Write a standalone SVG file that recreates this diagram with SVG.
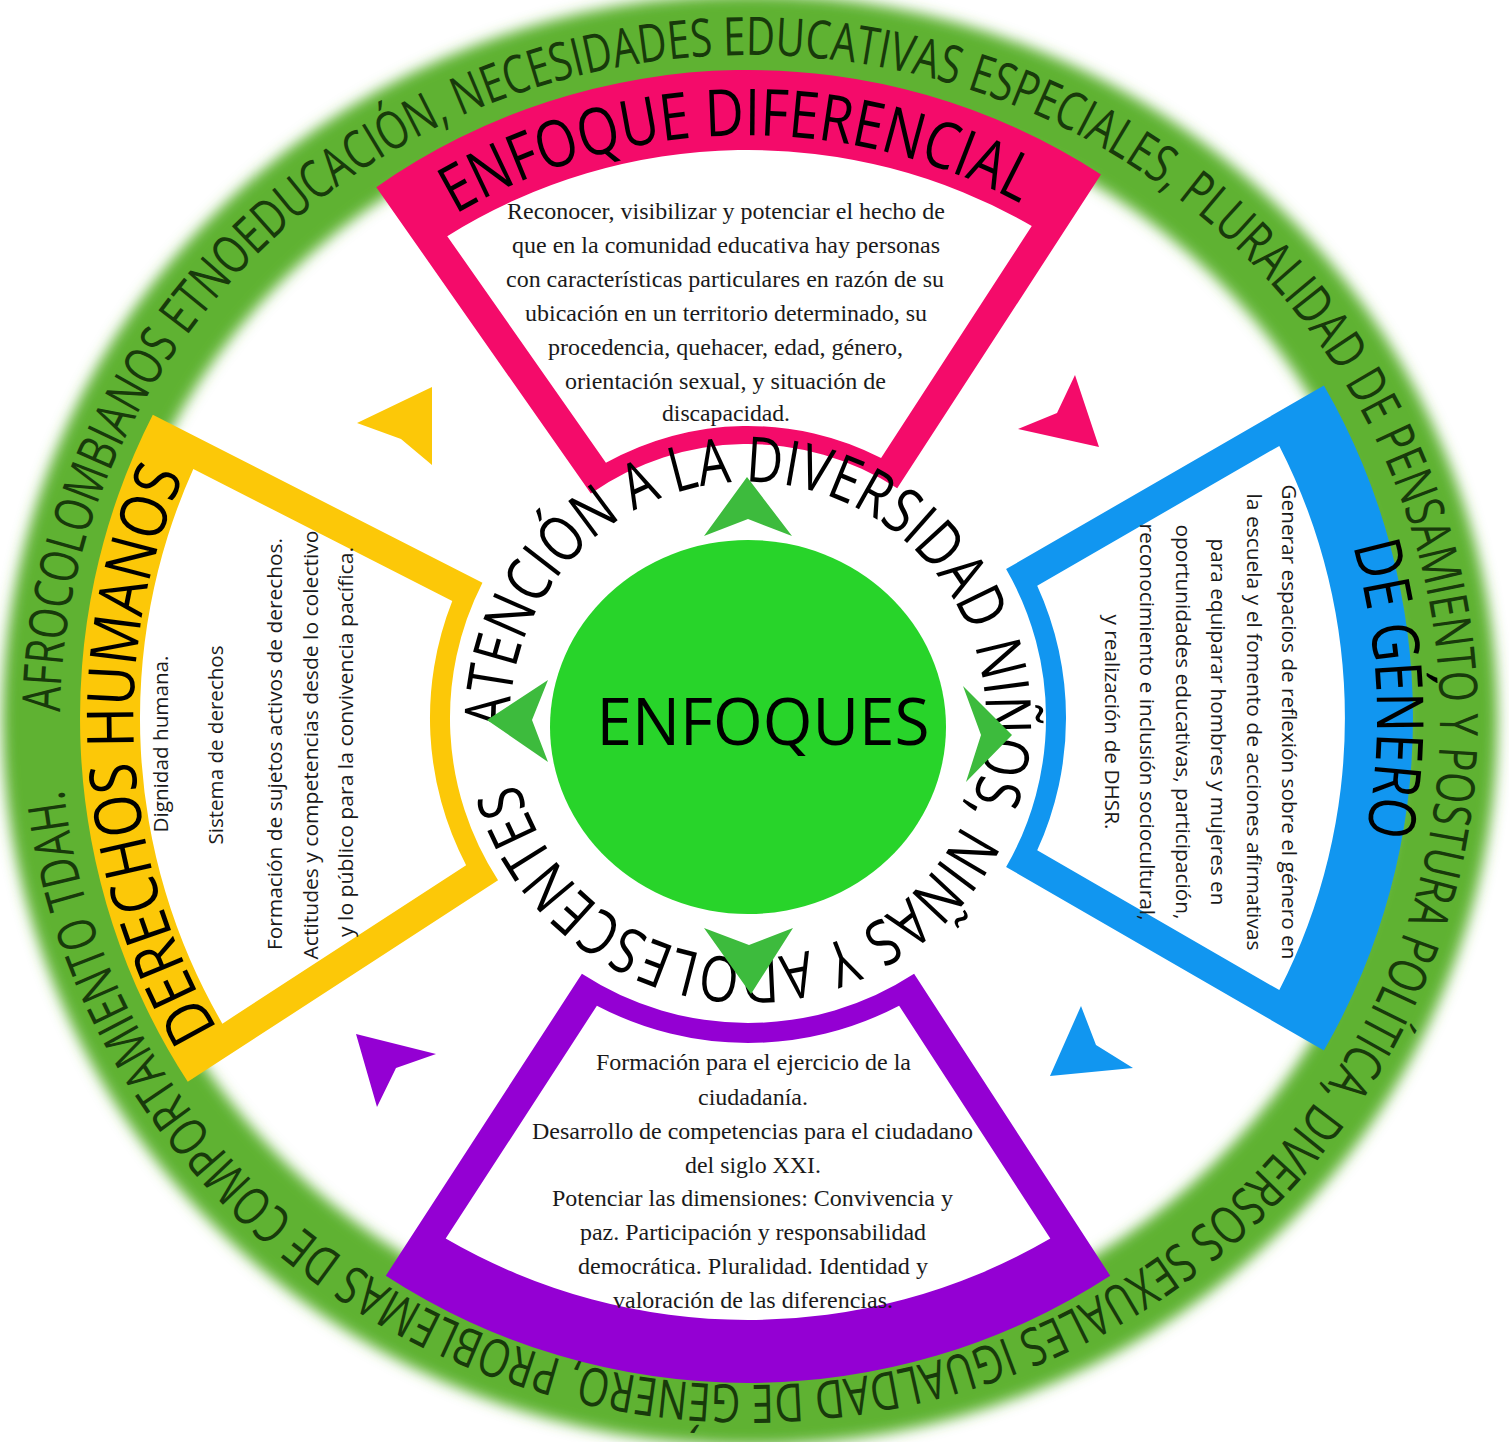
<svg xmlns="http://www.w3.org/2000/svg" width="1509" height="1442" viewBox="0 0 1509 1442">
<defs>
<style>
.ring{font-family:"Open Sans","Liberation Sans",sans-serif;font-size:53px;fill:#183a0b;}
.title{font-family:"Open Sans","Liberation Sans",sans-serif;font-size:65px;fill:#000;}
.inner{font-family:"Open Sans","Liberation Sans",sans-serif;font-size:63px;fill:#000;}
.serif{font-family:"Liberation Serif","Times New Roman",serif;font-size:23px;fill:#1a1a1a;text-anchor:middle;}
.sans{font-family:"Open Sans","Liberation Sans",sans-serif;font-size:20px;fill:#1a1a1a;text-anchor:middle;}
.ga{fill:#3dbb3d;}
</style>
<filter id="soft" x="-10%" y="-10%" width="120%" height="120%"><feGaussianBlur stdDeviation="7"/></filter>
<path id="ringPath" d="M 60,720 A 690 665 0 1 1 1440,720 A 690 665 0 1 1 60,720"/>
<path id="innerPath" d="M 510.1,728.3 A 238 238 0 1 1 985.9,711.7 A 238 238 0 1 1 510.1,728.3"/>
<path id="pinkTitle" d="M 241.8,433.3 A 578 578 0 0 1 1242,414"/>
<path id="blueTitle" d="M 1037,160 A 628 628 0 0 1 1086.6,1247.5"/>
<path id="yellowTitle" d="M 474.9,1267.8 A 612 612 0 0 1 410,207"/>
</defs>
<rect width="1509" height="1442" fill="#ffffff"/>

<g id="ring">
<ellipse cx="750" cy="720" rx="700" ry="678" fill="none" stroke="#5fb233" stroke-width="95" filter="url(#soft)"/>
<text class="ring"><textPath href="#ringPath" startOffset="8" textLength="4179" lengthAdjust="spacingAndGlyphs">AFROCOLOMBIANOS ETNOEDUCACIÓN, NECESIDADES EDUCATIVAS ESPECIALES, PLURALIDAD DE PENSAMIENTO Y POSTURA POLÍTICA, DIVERSOS SEXUALES IGUALDAD DE GÉNERO, PROBLEMAS DE COMPORTAMIENTO TDAH.</textPath></text>
</g>

<g id="node-diferencial">
<g transform="translate(748,718) rotate(-1)">
<path fill="#f40b6a" d="M -362.4,-537.2 A 648 648 0 0 1 362.4,-537.2 L 153.2,-227.1 A 274 274 0 0 0 -153.2,-227.1 Z"/>
<path fill="#ffffff" d="M -292.3,-487 A 568 568 0 0 1 292.3,-487 L 137.6,-257.6 A 292 292 0 0 0 -137.6,-257.6 Z"/>
</g>
<text class="title"><textPath href="#pinkTitle" startOffset="50%" text-anchor="middle" textLength="590" lengthAdjust="spacingAndGlyphs">ENFOQUE DIFERENCIAL</textPath></text>
<text class="serif" x="726" y="219" textLength="438" lengthAdjust="spacingAndGlyphs">Reconocer, visibilizar y potenciar el hecho de</text>
<text class="serif" x="726" y="253" textLength="428" lengthAdjust="spacingAndGlyphs">que en la comunidad educativa hay personas</text>
<text class="serif" x="725" y="287" textLength="438" lengthAdjust="spacingAndGlyphs">con características particulares en razón de su</text>
<text class="serif" x="726" y="321" textLength="402" lengthAdjust="spacingAndGlyphs">ubicación en un territorio determinado, su</text>
<text class="serif" x="725.5" y="355" textLength="355" lengthAdjust="spacingAndGlyphs">procedencia, quehacer, edad, género,</text>
<text class="serif" x="725.5" y="389" textLength="321" lengthAdjust="spacingAndGlyphs">orientación sexual, y situación de</text>
<text class="serif" x="726" y="421" textLength="128" lengthAdjust="spacingAndGlyphs">discapacidad.</text>
</g>

<g id="node-genero">
<g transform="translate(748,718) rotate(90)">
<path fill="#1196f0" d="M -332.5,-575.9 A 665 665 0 0 1 332.5,-575.9 L 149,-258.1 A 298 298 0 0 0 -149,-258.1 Z"/>
<path fill="#ffffff" d="M -272.1,-531.3 A 597 597 0 0 1 272.1,-531.3 L 132.3,-289.2 A 318 318 0 0 0 -132.3,-289.2 Z"/>
</g>
<text class="title"><textPath href="#blueTitle" startOffset="50%" text-anchor="middle" textLength="292" lengthAdjust="spacingAndGlyphs">DE GÉNERO</textPath></text>
<text class="sans" transform="translate(1282,722) rotate(90)" textLength="475" lengthAdjust="spacingAndGlyphs">Generar espacios de reflexión sobre el género en</text>
<text class="sans" transform="translate(1246.5,722) rotate(90)" textLength="457" lengthAdjust="spacingAndGlyphs">la escuela y el fomento de acciones afirmativas</text>
<text class="sans" transform="translate(1211,722) rotate(90)" textLength="367" lengthAdjust="spacingAndGlyphs">para equiparar hombres y mujeres en</text>
<text class="sans" transform="translate(1175.5,722) rotate(90)" textLength="395" lengthAdjust="spacingAndGlyphs">oportunidades educativas, participación,</text>
<text class="sans" transform="translate(1140,722) rotate(90)" textLength="397" lengthAdjust="spacingAndGlyphs">reconocimiento e inclusión sociocultural,</text>
<text class="sans" transform="translate(1104.5,722) rotate(90)" textLength="215" lengthAdjust="spacingAndGlyphs">y realización de DHSR.</text>
</g>

<g id="node-ciudadania">
<g transform="translate(748,718) rotate(180)">
<path fill="#9400d3" d="M -362.2,-557.7 A 665 665 0 0 1 362.2,-557.7 L 166.1,-255.8 A 305 305 0 0 0 -166.1,-255.8 Z"/>
<path fill="#ffffff" d="M -302.3,-520.6 A 602 602 0 0 1 302.3,-520.6 L 151.1,-287.7 A 325 325 0 0 0 -151.1,-287.7 Z"/>
</g>
<text class="serif" x="753.5" y="1070" textLength="315" lengthAdjust="spacingAndGlyphs">Formación para el ejercicio de la</text>
<text class="serif" x="753" y="1105" textLength="110" lengthAdjust="spacingAndGlyphs">ciudadanía.</text>
<text class="serif" x="752.5" y="1139" textLength="441" lengthAdjust="spacingAndGlyphs">Desarrollo de competencias para el ciudadano</text>
<text class="serif" x="753" y="1173" textLength="136" lengthAdjust="spacingAndGlyphs">del siglo XXI.</text>
<text class="serif" x="752.5" y="1206" textLength="401" lengthAdjust="spacingAndGlyphs">Potenciar las dimensiones: Convivencia y</text>
<text class="serif" x="753" y="1240" textLength="346" lengthAdjust="spacingAndGlyphs">paz. Participación y responsabilidad</text>
<text class="serif" x="753" y="1274" textLength="350" lengthAdjust="spacingAndGlyphs">democrática. Pluralidad. Identidad y</text>
<text class="serif" x="753" y="1308" textLength="280" lengthAdjust="spacingAndGlyphs">valoración de las diferencias.</text>
</g>

<g id="node-derechos">
<g transform="translate(748,718) rotate(267)">
<path fill="#fcc808" d="M -334,-578.5 A 668 668 0 0 1 334,-578.5 L 149,-258.1 A 298 298 0 0 0 -149,-258.1 Z"/>
<path fill="#ffffff" d="M -277.7,-540.9 A 608 608 0 0 1 277.7,-540.9 L 132.3,-289.2 A 318 318 0 0 0 -132.3,-289.2 Z"/>
</g>
<text class="title"><textPath href="#yellowTitle" startOffset="50%" text-anchor="middle" textLength="575" lengthAdjust="spacingAndGlyphs">DERECHOS HUMANOS</textPath></text>
<text class="sans" transform="translate(168,744) rotate(-90)" textLength="177" lengthAdjust="spacingAndGlyphs">Dignidad humana.</text>
<text class="sans" transform="translate(223,745) rotate(-90)" textLength="199" lengthAdjust="spacingAndGlyphs">Sistema de derechos</text>
<text class="sans" transform="translate(282,744) rotate(-90)" textLength="412" lengthAdjust="spacingAndGlyphs">Formación de sujetos activos de derechos.</text>
<text class="sans" transform="translate(318,745) rotate(-90)" textLength="429" lengthAdjust="spacingAndGlyphs">Actitudes y competencias desde lo colectivo</text>
<text class="sans" transform="translate(353,742) rotate(-90)" textLength="390" lengthAdjust="spacingAndGlyphs">y lo público para la convivencia pacífica.</text>
</g>

<g id="node-center">
<ellipse cx="748" cy="727" rx="198" ry="187" fill="#28d42a"/>
<text x="763" y="745" font-family="'Open Sans','Liberation Sans',sans-serif" font-size="66" fill="#000" text-anchor="middle" textLength="333" lengthAdjust="spacingAndGlyphs">ENFOQUES</text>
<text class="inner"><textPath href="#innerPath" textLength="1440" lengthAdjust="spacingAndGlyphs">ATENCIÓN A LA DIVERSIDAD NIÑOS, NIÑAS Y ADOLESCENTES</textPath></text>
</g>

<g id="connectors">
<path class="ga" d="M 747,477 L 792,536 L 748,519 L 704,536 Z"/>
<path class="ga" d="M 487,720 L 548,680 L 532,720 L 548,762 Z"/>
<path class="ga" d="M 1012,735 L 963,686 L 981,735 L 966,782 Z"/>
<path class="ga" d="M 751,994 L 704,928 L 749,945 L 793,928 Z"/>
<path fill="#fcc808" d="M 432,387 L 432,465 L 401,439 L 357,423 Z"/>
<path fill="#f40b6a" d="M 1099,447 L 1018,429 L 1057,413 L 1075,375 Z"/>
<path fill="#1196f0" d="M 1050,1076 L 1081,1006 L 1096,1045 L 1133,1068 Z"/>
<path fill="#9400d3" d="M 356,1034 L 436,1054 L 396,1068 L 377,1107 Z"/>
</g>
</svg>
